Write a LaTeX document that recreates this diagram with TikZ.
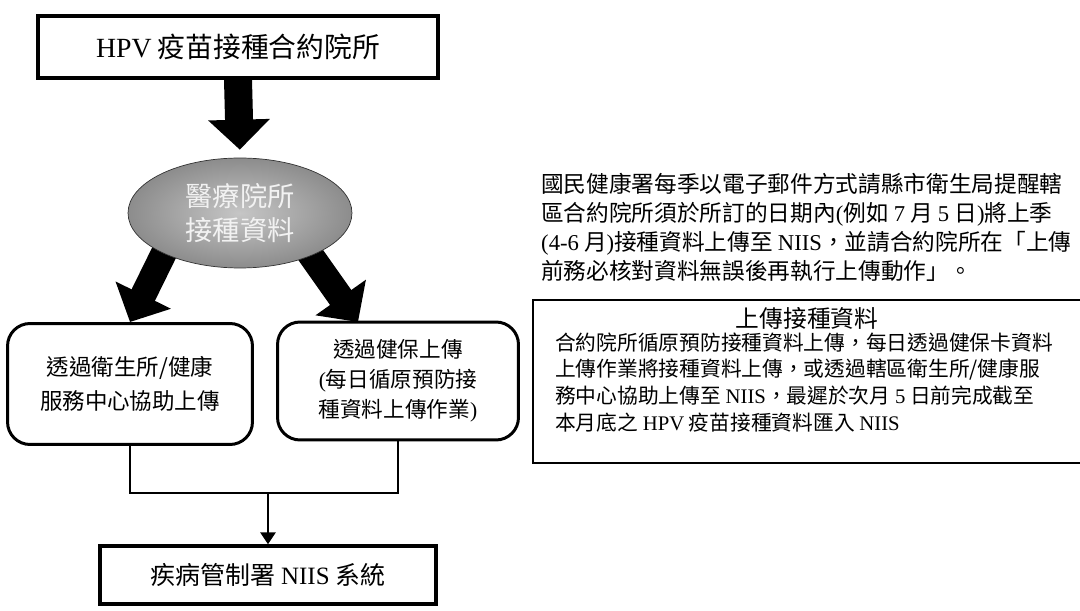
\documentclass[tikz,border=0pt]{standalone}
\usepackage{fontspec}
\setmainfont{Noto Sans CJK TC}
\newfontfamily\latin{Liberation Serif}
\newcommand{\lat}[1]{{\latin #1}}
\usetikzlibrary{positioning,arrows.meta,shapes.geometric,backgrounds}

\tikzset{
  plainbox/.style={draw, rectangle, line width=1.9pt, align=center},
  softbox/.style={draw, rectangle, rounded corners=0.45cm, line width=1.7pt, align=center},
  fatarrow/.style={line width=0.56cm, -{Triangle[length=0.6cm, width=1.2cm]}},
}

\begin{document}
\begin{tikzpicture}[x=0.02cm, y=-0.02cm]
  \useasboundingbox (0,0) rectangle (1080,611);

  % Contracted clinics

  \node[plainbox, minimum width=8cm, minimum height=1.24cm, font=\fontsize{15.8}{18}\selectfont] (clinic) at (238,47) {\lat{HPV} 疫苗接種合約院所};

  \node[ellipse, draw=black!80, shading=radial, inner color=gray!45, outer color=gray!90, minimum width=4.48cm, minimum height=2.2cm, align=center, text=gray!10, font=\fontsize{15.5}{19}\selectfont] (records) at (240,213) {醫療院所 \\ 接種資料};

  % Two ways of uploading

  \node[softbox, minimum width=4.9cm, minimum height=2.42cm, font=\fontsize{12.8}{19.5}\selectfont] (viaclinic) at (130,384) {透過衛生所/健康 \\ 服務中心協助上傳};

  \node[softbox, minimum width=4.82cm, minimum height=2.36cm, font=\fontsize{12.3}{17}\selectfont] (viacard) at (398,381) {透過健保上傳 \\ \lat{(}每日循原預防接 \\ 種資料上傳作業\lat{)}};

  \node[plainbox, minimum width=6.72cm, minimum height=1.16cm, font=\fontsize{14.2}{17}\selectfont] (niis) at (268,575) {疾病管制署 \lat{NIIS} 系統};

  % Big arrows
  \coordinate (cardtip) at (358,322);
  \begin{scope}[on background layer]
    \draw[fatarrow, shorten >=0.16cm] (clinic.south) -- (records.north);
    \draw[fatarrow, line width=0.52cm, shorten <=-0.2cm] (records.-152) -- (viaclinic.north);
    \draw[fatarrow, line width=0.52cm, shorten <=-0.2cm] (records.-31) -- (cardtip);
  \end{scope}

  % Joining lines
  \coordinate (join) at (268,493);
  \draw[line width=1.7pt] (viaclinic.south) |- (join) -| (viacard.south);
  \draw[line width=1.7pt, -{Triangle[length=0.24cm, width=0.3cm]}] (join) -- (niis.north);

  % Notes on the right

  \node[anchor=west, align=left, font=\fontsize{12.9}{16.5}\selectfont] (notice) at (535,227) {國民健康署每季以電子郵件方式請縣市衛生局提醒轄 \\ 區合約院所須於所訂的日期內\lat{(}例如 \lat{7} 月 \lat{5} 日\lat{)}將上季 \\ \lat{(4-6} 月\lat{)}接種資料上傳至 \lat{NIIS}，並請合約院所在「上傳 \\ 前務必核對資料無誤後再執行上傳動作」。};

  \node[minimum width=10.94cm, minimum height=3.26cm] (upload) at (806.5,381.5) {};
  \draw[line width=1.3pt] (upload.north east) -- (upload.north west) -- (upload.south west) -- (upload.south east);

  \node[font=\fontsize{13.5}{16}\selectfont] (uptitle) at (807,318) {上傳接種資料};
  \node[anchor=west, align=left, font=\fontsize{11.8}{15.3}\selectfont] (uptext) at (549,382.5) {合約院所循原預防接種資料上傳，每日透過健保卡資料 \\ 上傳作業將接種資料上傳，或透過轄區衛生所/健康服 \\ 務中心協助上傳至 \lat{NIIS}，最遲於次月 \lat{5} 日前完成截至 \\ 本月底之 \lat{HPV} 疫苗接種資料匯入 \lat{NIIS}};

\end{tikzpicture}
\end{document}
